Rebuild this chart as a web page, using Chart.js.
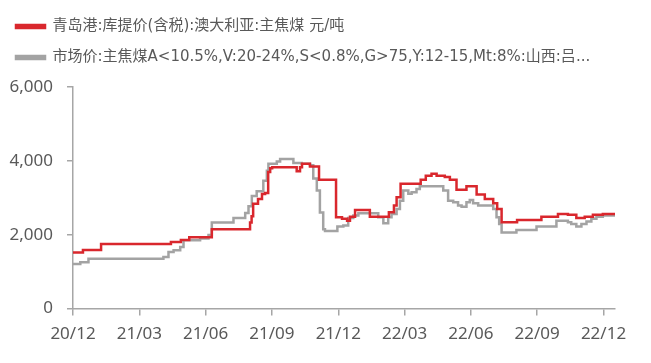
<!DOCTYPE html>
<html>
<head>
<meta charset="utf-8">
<script src="https://cdn.jsdelivr.net/npm/chart.js@4"></script>
<style>
  body { margin: 0; background: #fff; }
</style>
</head>
<body>
<canvas id="chart" width="651" height="363"></canvas>
<script>
// months since 2020-12 (x) and prices (y)
const redLabel = '青岛港:库提价(含税):澳大利亚:主焦煤 元/吨';
const grayLabel = '市场价:主焦煤A<10.5%,V:20-24%,S<0.8%,G>75,Y:12-15,Mt:8%:山西:吕...';
const tickLabels = ['20/12', '21/03', '21/06', '21/09', '21/12', '22/03', '22/06', '22/09', '22/12'];

const redMonths = [0, 0.45, 1.27, 4.43, 4.88, 5.26, 6.28, 8.01, 8.08, 8.15, 8.37, 8.55, 8.69, 8.83, 8.92, 9.01,
  10.12, 10.27, 10.36, 10.72, 11.13, 11.9, 12.17, 12.4, 12.53, 12.76, 13.43, 14.29, 14.52, 14.64, 14.82,
  15.73, 15.96, 16.22, 16.45, 16.82, 17.05, 17.35, 17.8, 18.26, 18.63, 19.01, 19.19, 19.39, 20.09, 21.19,
  21.94, 22.39, 22.77, 23.15, 23.52, 23.97, 24.52];
const redValues = [1520, 1590, 1750, 1800, 1860, 1930, 2150, 2330, 2500, 2840, 2970, 3100, 3130, 3700, 3800, 3830,
  3720, 3830, 3920, 3850, 3490, 2470, 2430, 2380, 2490, 2670, 2490, 2610, 2790, 3015, 3380,
  3490, 3600, 3650, 3600, 3560, 3490, 3220, 3310, 3090, 2970, 2850, 2700, 2335, 2400, 2490,
  2560, 2540, 2450, 2490, 2540, 2560, 2560];

const grayMonths = [0, 0.33, 0.7, 4.09, 4.32, 4.55, 4.85, 5.0, 5.75, 6.13, 6.28, 7.26, 7.79, 7.94, 8.09, 8.31,
  8.61, 8.77, 8.84, 9.22, 9.37, 9.97, 10.35, 10.72, 10.87, 11.03, 11.17, 11.32, 11.4, 11.96, 12.23,
  12.45, 12.68, 12.91, 13.81, 14.04, 14.26, 14.41, 14.64, 14.79, 14.94, 15.17, 15.32, 15.54, 15.69,
  16.75, 16.97, 17.2, 17.42, 17.58, 17.8, 17.95, 18.1, 18.33, 19.01, 19.16, 19.28, 19.39, 20.06,
  20.97, 21.87, 22.39, 22.54, 22.77, 23.0, 23.23, 23.45, 23.68, 23.97, 24.52];
const grayValues = [1210, 1257, 1350, 1395, 1530, 1580, 1670, 1850, 1900, 1990, 2330, 2450, 2590, 2770, 3050, 3180,
  3460, 3730, 3920, 3980, 4050, 3940, 3920, 3880, 3520, 3200, 2600, 2150, 2100, 2220, 2250,
  2450, 2520, 2580, 2470, 2310, 2470, 2560, 2700, 2920, 3200, 3110, 3150, 3240, 3310,
  3200, 2920, 2880, 2790, 2760, 2880, 2940, 2850, 2790, 2700, 2470, 2290, 2060, 2130,
  2220, 2380, 2340, 2290, 2220, 2290, 2360, 2430, 2490, 2520, 2520];

const toPoints = (xs, ys) => xs.map((x, i) => ({ x: x, y: ys[i] }));

const textColor = '#595959';
const axisColor = '#A6A6A6';

// push the plot area down a bit below the legend
const legendGap = {
    id: 'legendGap',
    beforeInit(chart) {
        const fit = chart.legend.fit;
        chart.legend.fit = function () {
            fit.call(this);
            this.height += 12;
        };
    }
};

new Chart(document.getElementById('chart'), {
    type: 'line',
    data: {
        datasets: [{
            label: redLabel,
            data: toPoints(redMonths, redValues),
            borderColor: '#D9272D',
            backgroundColor: '#D9272D',
            borderWidth: 2.5,
            pointRadius: 0,
            stepped: 'before'
        }, {
            label: grayLabel,
            data: toPoints(grayMonths, grayValues),
            borderColor: '#A3A3A3',
            backgroundColor: '#A3A3A3',
            borderWidth: 2.5,
            pointRadius: 0,
            stepped: 'before'
        }]
    },
    options: {
        responsive: false,
        animation: false,
        devicePixelRatio: 1,
        layout: { padding: { top: 3, left: 0, right: 36, bottom: 11 } },
        plugins: {
            legend: {
                position: 'top',
                align: 'start',
                labels: {
                    boxWidth: 29,
                    boxHeight: 3,
                    padding: 16,
                    color: textColor,
                    font: { family: '"DejaVu Sans", "Noto Sans CJK SC", sans-serif', size: 15 }
                }
            },
            tooltip: { enabled: false }
        },
        scales: {
            x: {
                type: 'linear',
                min: 0,
                max: 24.52,
                grid: { drawOnChartArea: false, drawTicks: true, tickLength: 7, color: axisColor, lineWidth: 1.5 },
                border: { color: axisColor, width: 1.5 },
                ticks: {
                    stepSize: 3,
                    includeBounds: false,
                    autoSkip: false,
                    maxRotation: 0,
                    padding: 8,
                    color: textColor,
                    font: { family: '"Noto Sans", sans-serif', size: 17 },
                    callback: value => tickLabels[value / 3]
                }
            },
            y: {
                min: 0,
                max: 6000,
                afterFit(scale) { scale.width = 73; },
                grid: { drawOnChartArea: false, drawTicks: true, tickLength: 6, color: axisColor, lineWidth: 1.5 },
                border: { color: axisColor, width: 1.5 },
                ticks: {
                    stepSize: 2000,
                    padding: 14,
                    color: textColor,
                    font: { family: '"Noto Sans", sans-serif', size: 17 },
                    callback: value => value.toLocaleString('en-US')
                }
            }
        }
    },
    plugins: [legendGap]
});
</script>
</body>
</html>
